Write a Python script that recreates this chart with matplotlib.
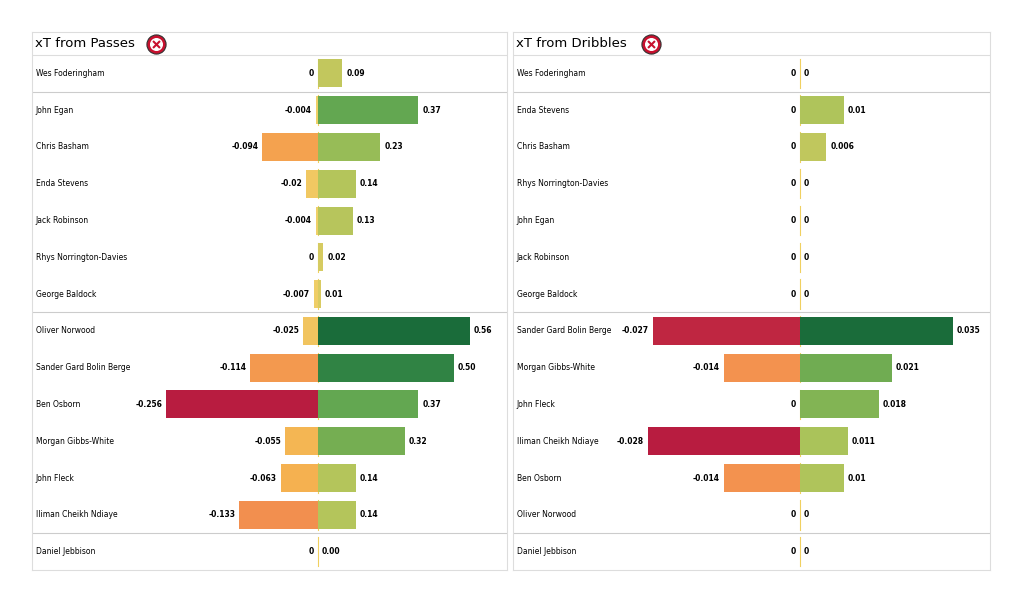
import matplotlib
matplotlib.use("Agg")
import matplotlib.pyplot as plt
from matplotlib.colors import LinearSegmentedColormap

pass_names = ["Wes Foderingham","John Egan","Chris Basham","Enda Stevens","Jack Robinson",
              "Rhys Norrington-Davies","George Baldock","Oliver Norwood","Sander Gard Bolin Berge",
              "Ben Osborn","Morgan Gibbs-White","John Fleck","Iliman Cheikh Ndiaye","Daniel Jebbison"]
pass_neg = [0,-0.004,-0.094,-0.02,-0.004,0,-0.007,-0.025,-0.114,-0.256,-0.055,-0.063,-0.133,0]
pass_pos = [0.09,0.37,0.23,0.14,0.13,0.02,0.01,0.56,0.50,0.37,0.32,0.14,0.14,0.00]

drib_names = ["Wes Foderingham","Enda Stevens","Chris Basham","Rhys Norrington-Davies","John Egan",
              "Jack Robinson","George Baldock","Sander Gard Bolin Berge","Morgan Gibbs-White",
              "John Fleck","Iliman Cheikh Ndiaye","Ben Osborn","Oliver Norwood","Daniel Jebbison"]
drib_neg = [0,0,0,0,0,0,0,-0.027,-0.014,0,-0.028,-0.014,0,0]
drib_pos = [0,0.01,0.006,0,0,0,0,0.035,0.021,0.018,0.011,0.01,0,0]

group_lines = [0.5, 6.5, 12.5]
cmap = LinearSegmentedColormap.from_list("xt", [
    "#b81c40", "#e8664a", "#f3924f", "#f5b04f", "#efd068",
    "#c9c85e", "#a8c35a", "#79b052", "#4b9e50", "#1a6c3a"])

fig = plt.figure(figsize=(10.24, 6.02), dpi=100)
fig.patch.set_facecolor("white")

def panel(rect, title, names, neg, pos, posfmt, logo_x):
    ax = fig.add_axes(rect)
    ax.set_xlim(0, 1)
    ax.set_ylim(13.5, -1.125)
    ax.set_xticks([]); ax.set_yticks([])
    for s in ax.spines.values():
        s.set_color("#dddddd"); s.set_linewidth(0.8)
    z, half, h = 0.602, 0.32, 0.76
    mp = max(pos) or 1
    mn = max(abs(v) for v in neg) or 1
    for i, name in enumerate(names):
        ax.text(0.008, i, name, fontsize=5.5, va="center", ha="left")
        ax.plot([z, z], [i - 0.4, i + 0.4], color="#f0d060", lw=0.8, zorder=1)
        fn = abs(neg[i]) / mn
        fp = pos[i] / mp
        if neg[i] != 0:
            ax.barh(i, -fn * half, left=z, height=h, color=cmap(0.45 - 0.45 * fn), zorder=2)
        if pos[i] != 0:
            ax.barh(i, fp * half, left=z, height=h, color=cmap(0.5 + 0.5 * fp), zorder=2)
        ax.text(z - fn * half - 0.008, i, str(neg[i]), fontsize=5.5, fontweight="bold",
                ha="right", va="center")
        ax.text(z + fp * half + 0.008, i, posfmt(pos[i]), fontsize=5.5, fontweight="bold",
                ha="left", va="center")
    ax.axhline(-0.5, color="#dddddd", lw=0.8)
    for g in group_lines:
        ax.axhline(g, color="#cccccc", lw=0.8)
    ax.text(0.006, -0.8, title, fontsize=9.5, va="center", ha="left")
    ax.scatter([logo_x], [-0.8], s=190, color="#c8102e", edgecolors="#333333", linewidths=0.8, zorder=5)
    ax.scatter([logo_x], [-0.8], s=70, color="white", zorder=6)
    ax.scatter([logo_x], [-0.8], s=25, color="#c8102e", marker="x", zorder=7)
    return ax

panel([32/1024, 32/602, 475/1024, 538/602], "xT from Passes",
      pass_names, pass_neg, pass_pos, lambda v: f"{v:.2f}", 0.262)
panel([513/1024, 32/602, 477/1024, 538/602], "xT from Dribbles",
      drib_names, drib_neg, drib_pos, lambda v: str(v), 0.29)

fig.savefig("out.png", dpi=100)
